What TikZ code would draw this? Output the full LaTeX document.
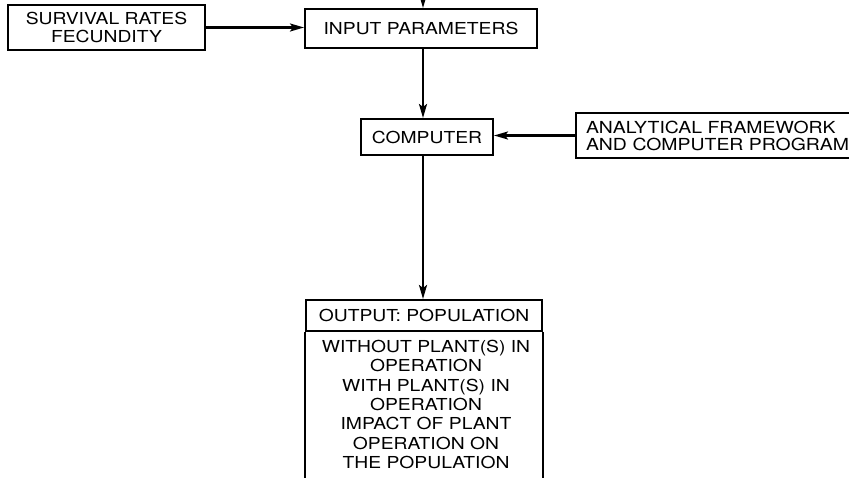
\documentclass[tikz,border=0pt]{standalone}
\usepackage{fontspec}
\setmainfont{TeX Gyre Heros}[FakeStretch=1.17]
\usetikzlibrary{arrows.meta,calc}
\begin{document}
\begin{tikzpicture}[x=1pt,y=1pt,
  box/.style={draw,line width=2pt,inner sep=0pt,align=center,font=\fontsize{16.5}{18}\selectfont},
  arr/.style={line width=2.2pt,-{Stealth[length=14pt,width=8pt,inset=3pt]}}]
\useasboundingbox (0,0) rectangle (849,-478);
\node[box,minimum width=197,minimum height=45] (surv) at (106.5,-27.5) {SURVIVAL RATES\\FECUNDITY};
\node[box,minimum width=232,minimum height=39] (inp) at (421,-28.5) {INPUT PARAMETERS};
\node[box,minimum width=132,minimum height=36] (comp) at (427,-137) {COMPUTER};
\node[box,anchor=west,minimum width=290,minimum height=45,align=left,text width=270,
  font=\fontsize{16.6}{17}\selectfont] (anal) at (575,-135.5) {ANALYTICAL FRAMEWORK\\AND COMPUTER PROGRAM};
\node[box,minimum width=236,minimum height=31,anchor=north] (outh) at (424,-299) {OUTPUT: POPULATION};
\node[align=center,anchor=north,inner sep=0pt,font=\fontsize{16.5}{19.3}\selectfont] (outb) at (426,-340)
  {WITHOUT PLANT(S) IN\\OPERATION\\WITH PLANT(S) IN\\OPERATION\\IMPACT OF PLANT\\OPERATION ON\\THE POPULATION};
\coordinate (topin) at (423,10);
\coordinate (bot) at (424,-500);
\draw[line width=2pt] (outh.south west) -- (outh.south west |- bot);
\draw[line width=2pt] (outh.south east) -- (outh.south east |- bot);
\draw[arr] (topin) -- (inp.north -| topin);
\draw[arr] (surv.east) -- (inp.west |- surv.east);
\draw[arr] (inp.south -| topin) -- (comp.north -| topin);
\draw[arr] (anal.west) -- (comp.east |- anal.west);
\draw[arr] (comp.south -| topin) -- (outh.north -| topin);
\end{tikzpicture}
\end{document}
